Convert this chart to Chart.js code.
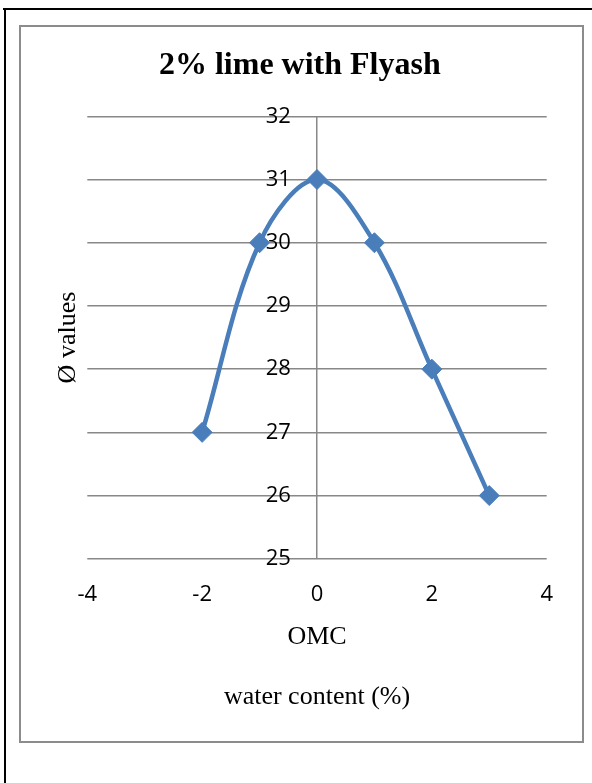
<!DOCTYPE html>
<html>
<head>
<meta charset="utf-8">
<script src="https://cdn.jsdelivr.net/npm/chart.js@4"></script>
<style>
    body { margin: 0; background: #fff; }
    #page { position: relative; width: 592px; height: 783px; overflow: hidden; }
    #top-rule { position: absolute; left: 3px; top: 8px; width: 589px; height: 2px; background: #000; }
    #left-rule { position: absolute; left: 4px; top: 8px; width: 2px; height: 775px; background: #000; }
    #frame { position: absolute; left: 19px; top: 25px; width: 561px; height: 714px; border: 2px solid #8c8c8c; }
    #frame canvas { display: block; }
</style>
</head>
<body>
<div id="page">
    <div id="top-rule"></div>
    <div id="left-rule"></div>
    <div id="frame">
        <canvas id="phiChart" width="561" height="714"></canvas>
    </div>
</div>
<script>
// Values
const waterContent = [-2, -1, 0, 1, 2, 3];
const phiValues = [27, 30, 31, 30, 28, 26];
const xRange = [-4, 4];
const yRange = [25, 32];

const serif = 'Liberation Serif, Times New Roman, serif';
const sans = 'Open Sans, sans-serif';
const blue = '#4a7ebb';
const gridGray = '#888888';

const ctx = document.getElementById('phiChart').getContext('2d');
const phiChart = new Chart(ctx, {
    type: 'line',
    data: {
        datasets: [{
            label: 'Ø values',
            data: waterContent.map((x, i) => ({ x: x, y: phiValues[i] })),
            borderColor: blue,
            backgroundColor: blue,
            borderWidth: 4.5,
            tension: 0.35,
            pointStyle: 'rectRot',
            pointRadius: 10,
            pointBorderWidth: 1,
            pointBackgroundColor: blue,
            pointBorderColor: blue,
            fill: false
        }]
    },
    options: {
        responsive: false,
        animation: false,
        layout: {
            padding: { left: 32, right: 35.3, top: 0, bottom: 0 }
        },
        plugins: {
            legend: { display: false },
            tooltip: { enabled: false },
            title: {
                display: true,
                text: '2% lime with Flyash',
                color: '#000',
                font: { family: serif, size: 32, weight: 'bold' },
                padding: { top: 19.8, bottom: 31.1 }
            },
            subtitle: {
                display: true,
                position: 'bottom',
                fullSize: false,
                text: 'water content (%)',
                color: '#000',
                font: { family: serif, size: 26 },
                padding: { top: 26.8, bottom: 28.4 }
            }
        },
        scales: {
            x: {
                type: 'linear',
                position: 'bottom',
                min: xRange[0],
                max: xRange[1],
                // only the line at x = 0 is drawn (the vertical axis)
                grid: {
                    drawTicks: false,
                    lineWidth: 1.5,
                    color: c => (c.tick && c.tick.value === 0) ? gridGray : 'rgba(0,0,0,0)'
                },
                border: { display: false },
                ticks: {
                    stepSize: 2,
                    color: '#000',
                    padding: 22.5,
                    font: { family: sans, size: 22 }
                },
                title: {
                    display: true,
                    text: 'OMC',
                    color: '#000',
                    font: { family: serif, size: 26 },
                    padding: { top: -8.8, bottom: 2 }
                }
            },
            y: {
                type: 'linear',
                // labels sit just left of the x = 0 line
                position: { x: -0.455 },
                min: yRange[0],
                max: yRange[1],
                grid: { color: gridGray, lineWidth: 1.5, drawTicks: false },
                border: { display: false },
                ticks: {
                    stepSize: 1,
                    color: '#000',
                    font: { family: sans, size: 22 }
                }
            },
            // left-hand axis that only carries the rotated title
            yTitle: {
                type: 'linear',
                axis: 'y',
                position: 'left',
                grid: { display: false, drawTicks: false },
                border: { display: false },
                ticks: { display: false },
                title: {
                    display: true,
                    text: 'Ø values',
                    color: '#000',
                    font: { family: serif, size: 26 },
                    padding: { top: 0, bottom: 3.1 }
                }
            }
        }
    }
});
</script>
</body>
</html>
